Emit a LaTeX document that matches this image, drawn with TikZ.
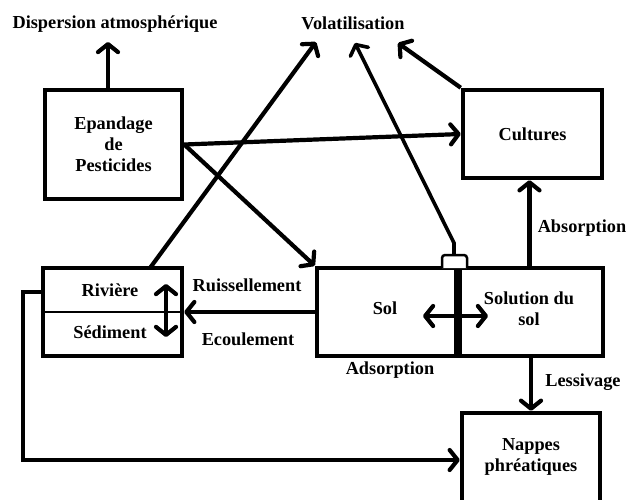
\documentclass[tikz,border=0pt]{standalone}
\usepackage{fontspec}
\setmainfont{Liberation Serif}
\usetikzlibrary{arrows.meta,calc}
\begin{document}
\begin{tikzpicture}[x=1pt,y=-1pt,
  lbl/.style={font=\fontsize{18.3}{21}\selectfont\bfseries, align=center, inner sep=0pt},
  box/.style={draw, line width=4.5pt, inner sep=0pt, lbl},
  arr/.style={line width=4.2pt, -{Straight Barb[length=8pt,width=20pt,round]}},
  darr/.style={line width=4.2pt, {Straight Barb[length=8pt,width=20pt,round]}-{Straight Barb[length=8pt,width=20pt,round]}},
  thin/.style={line width=2.5pt}]
\useasboundingbox (0,0) rectangle (627,499);
\clip (0,0) rectangle (627,499);
\fill[white] (0,0) rectangle (627,499);

% boxes
\node[box, minimum width=137pt, minimum height=109pt] (ep) at (113.5,144.5) {Epandage\\de\\Pesticides};
\node[box, minimum width=139pt, minimum height=88pt] (cu) at (532.5,134) {Cultures};
\node[box, minimum width=139pt, minimum height=88pt] (riv) at (112.5,312) {};
\node[box, minimum width=139pt, minimum height=88pt] (sol) at (386.5,312) {};
\node[box, minimum width=147pt, minimum height=88pt] (sl) at (529.5,312) {};
\node[box, minimum width=138pt, minimum height=94pt] (np) at (531,460) {};

% texts inside
\node[lbl] (rivt) at (110,290) {Rivière};
\node[lbl] (sedt) at (110,332) {Sédiment};
\node[lbl] (solt) at (385,308) {Sol};
\node[lbl] (slt) at (529,309) {Solution du\\sol};
\node[lbl] (npt) at (531,457) {Nappes\\phréatiques};

% free labels
\node[lbl] (disp) at (115,24) {Dispersion atmosphérique};
\node[lbl] (vol) at (353,23) {Volatilisation};
\node[lbl] (ruis) at (247,285) {Ruissellement};
\node[lbl] (ecou) at (248,339) {Ecoulement};
\node[lbl] (adso) at (390,370) {Adsorption};
\node[lbl] (abso) at (582,228) {Absorption};
\node[lbl] (less) at (583,382) {Lessivage};

% divider lines
\draw[thin] (riv.west) -- (riv.east);
\draw[line width=6.5pt] (sol.north east) -- (sol.south east);

% coordinates
\coordinate (dispTip) at (108,42);
\coordinate (volL) at (316,42);
\coordinate (volM) at (355,43);
\coordinate (volR) at (398,43);
\coordinate (rivTop) at (150,268);
\coordinate (brTop) at (454,255);
\coordinate (brBend) at (454,243);
\coordinate (rivOut) at (43,292);
\coordinate (corner1) at (23,292);
\coordinate (corner2) at (23,460);

% bracket
\draw[thin, rounded corners=3pt, fill=white] (442,268) -- (442,255) -- (467,255) -- (467,268);

% arrows
\draw[arr] (ep.north -| dispTip) -- (dispTip);
\draw[arr] (rivTop) -- (volL);
\draw[arr, line width=3.6pt] (brTop) -- (brBend) -- (volM);
\draw[arr] (cu.north west) -- (volR);
\draw[arr] (ep.east) -- (cu.west);
\draw[arr] (ep.east) -- (sol.north west);
\draw[arr] (sol.west |- riv.east) -- (riv.east);
\draw[arr] (sl.north) -- (sl.north |- cu.south);
\draw[arr] (sl.south -| np.north) -- (np.north);
\draw[arr, line join=miter] (rivOut) -- (corner1) -- (corner2) -- (np.west |- corner2);

% double arrows
\coordinate (dA) at (166,284);
\coordinate (dB) at (166,337);
\draw[darr] (dA) -- (dB);
\coordinate (hA) at (423,316);
\coordinate (hB) at (488,316);
\draw[darr] (hA) -- (hB);
\end{tikzpicture}
\end{document}
